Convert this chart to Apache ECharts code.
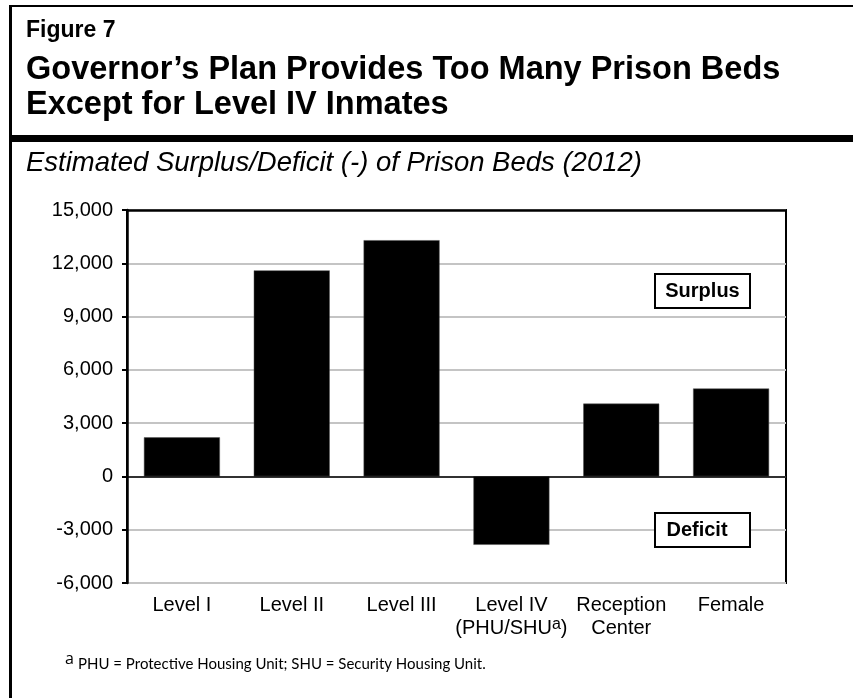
<!DOCTYPE html>
<html>
<head>
<meta charset="utf-8">
<script src="https://cdn.jsdelivr.net/npm/echarts@6/dist/echarts.min.js"></script>
<style>
  html, body { margin: 0; padding: 0; background: #ffffff; }
  #chart { width: 853px; height: 698px; }
</style>
</head>
<body>
<div id="chart"></div>
<script>
// Prison bed surplus / deficit by housing category, 2012
const categories = ['Level I', 'Level II', 'Level III', 'Level IV', 'Reception', 'Female'];
const categoryLines = ['Level I', 'Level II', 'Level III', 'Level IV\n(PHU/SHU{sup|a})', 'Reception\nCenter', 'Female'];
const bedBalance = [2200, 11600, 13300, -3850, 4100, 4950];
const yTicks = [-6000, -3000, 0, 3000, 6000, 9000, 12000, 15000];

const FONT = '"Liberation Sans", Arial, Helvetica, sans-serif';

const chart = echarts.init(document.getElementById('chart'), null, { renderer: 'canvas' });

const option = {
  backgroundColor: '#ffffff',
  animation: false,
  grid: {
    left: 127, right: 67, top: 210, bottom: 115,
    show: true, borderColor: '#000000', borderWidth: 2, backgroundColor: 'transparent'
  },
  xAxis: {
    type: 'category',
    data: categories,
    axisLine: { show: false, onZero: false },
    axisTick: { show: false },
    axisLabel: {
      interval: 0,
      margin: 11,
      color: '#000000',
      fontFamily: FONT,
      fontSize: 20,
      lineHeight: 23,
      formatter: (v, i) => categoryLines[i],
      rich: {
        sup: { fontFamily: FONT, fontSize: 16, verticalAlign: 'top', padding: [0, 0, 8, 0], color: '#000000' }
      }
    }
  },
  yAxis: {
    type: 'value',
    min: yTicks[0],
    max: yTicks[yTicks.length - 1],
    interval: 3000,
    axisLine: { show: true, lineStyle: { color: '#000000', width: 2.5 } },
    axisTick: { show: true, inside: false, length: 5, lineStyle: { color: '#000000', width: 2 } },
    axisLabel: {
      margin: 14,
      color: '#000000',
      fontFamily: FONT,
      fontSize: 20,
      formatter: v => v.toLocaleString('en-US')
    },
    splitLine: { show: true, lineStyle: { color: '#c4c4c4', width: 2 } }
  },
  series: [{
    type: 'bar',
    data: bedBalance,
    barWidth: 76,
    itemStyle: { color: '#000000', borderColor: '#555555', borderWidth: 0.5 },
    markLine: {
      silent: true,
      symbol: ['none', 'none'],
      label: { show: false },
      lineStyle: { color: '#000000', type: 'solid' },
      data: [
        { yAxis: 0, lineStyle: { width: 1.5 } },
        { yAxis: yTicks[yTicks.length - 1], lineStyle: { width: 2.5 } }
      ],
      z: 5
    }
  }],
  graphic: [
    // outer frame
    { type: 'rect', shape: { x: 9, y: 5, width: 860, height: 2 }, style: { fill: '#000000' } },
    { type: 'rect', shape: { x: 9, y: 5, width: 3, height: 700 }, style: { fill: '#000000' } },
    { type: 'rect', shape: { x: 9, y: 135, width: 860, height: 7 }, style: { fill: '#000000' } },
    // headings
    { type: 'text', left: 26, top: 19, style: { text: 'Figure 7', font: 'bold 23px ' + FONT, fill: '#000000' } },
    { type: 'text', left: 26, top: 54, style: { text: 'Governor\u2019s Plan Provides Too Many Prison Beds', font: 'bold 32.5px ' + FONT, fill: '#000000' } },
    { type: 'text', left: 26, top: 89, style: { text: 'Except for Level IV Inmates', font: 'bold 32.5px ' + FONT, fill: '#000000' } },
    { type: 'text', left: 26, top: 150, style: { text: 'Estimated Surplus/Deficit (-) of Prison Beds (2012)', font: 'italic 27.5px ' + FONT, fill: '#000000' } },
    // region labels
    { type: 'rect', z: 10, shape: { x: 655, y: 274, width: 95, height: 34 }, style: { fill: '#ffffff', stroke: '#000000', lineWidth: 2 } },
    { type: 'text', z: 11, x: 702.5, y: 291, style: { text: 'Surplus', font: 'bold 20px ' + FONT, fill: '#000000', align: 'center', verticalAlign: 'middle' } },
    { type: 'rect', z: 10, shape: { x: 655, y: 513, width: 95, height: 34 }, style: { fill: '#ffffff', stroke: '#000000', lineWidth: 2 } },
    { type: 'text', z: 11, x: 697, y: 530, style: { text: 'Deficit', font: 'bold 20px ' + FONT, fill: '#000000', align: 'center', verticalAlign: 'middle' } },
    // footnote
    { type: 'text', left: 65, top: 651, style: { text: 'a', font: '16px "Open Sans", sans-serif', fill: '#000000' } },
    { type: 'text', left: 78, top: 657, style: { text: 'PHU = Protective Housing Unit; SHU = Security Housing Unit.', font: '15px Lato, "Open Sans", sans-serif', fill: '#000000' } }
  ]
};

chart.setOption(option);
</script>
</body>
</html>
